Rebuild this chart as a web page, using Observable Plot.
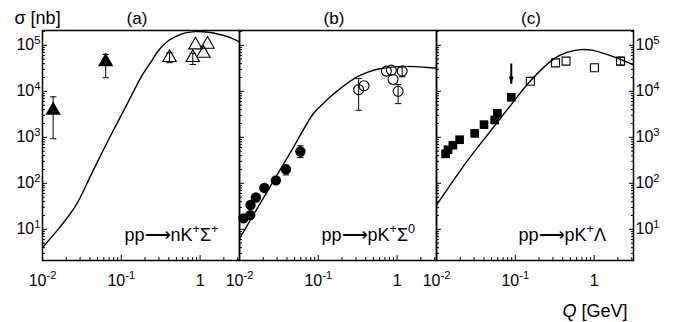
<!DOCTYPE html>
<html><head><meta charset="utf-8">
<script src="https://cdn.jsdelivr.net/npm/d3@7"></script>
<script src="https://cdn.jsdelivr.net/npm/@observablehq/plot@0.6"></script>
<style>html,body{margin:0;padding:0;background:#fff;} #chart svg{display:block}</style>
</head><body><div id="chart"></div>
<script>
// ---------- labels ----------
const panels = ["a", "b", "c"];
const panelTitles = ["(a)", "(b)", "(c)"];
const reactions = ["pp⟶nK^{+}Σ^{+}", "pp⟶pK^{+}Σ^{0}", "pp⟶pK^{+}Λ"];
const yTitle = "σ [nb]";
const xTitle = "*Q* [GeV]";

// ---------- ticks ----------
const xMajor = [0.01, 0.1, 1];
const xMajorLabels = ["10^{-2}", "10^{-1}", "1"];
const xMinor = [0.02, 0.03, 0.04, 0.05, 0.06, 0.07, 0.08, 0.09, 0.2, 0.3, 0.4, 0.5, 0.6, 0.7, 0.8, 0.9, 2, 3];
const yMajor = [10, 100, 1000, 10000, 100000];
const yMajorLabels = ["10^{1}", "10^{2}", "10^{3}", "10^{4}", "10^{5}"];
const yMinor = [3, 4, 5, 6, 7, 8, 9, 20, 30, 40, 50, 60, 70, 80, 90,
  200, 300, 400, 500, 600, 700, 800, 900, 2000, 3000, 4000, 5000, 6000, 7000, 8000, 9000,
  20000, 30000, 40000, 50000, 60000, 70000, 80000, 90000, 200000];

// ---------- theory curves ----------
const curveA_Q = [0.01, 0.01625, 0.02642, 0.04295, 0.06982, 0.1135, 0.1845, 0.2466, 0.2998, 0.382, 0.487, 0.652, 0.873, 1.288, 1.723, 2.54, 3.16];
const curveA_sigma = [4.03, 10.6, 32.6, 175, 931, 4580, 22500, 47800, 79000, 120000, 154000, 186000, 199000, 192000, 174000, 142000, 117000];
const curveB_Q = [0.01, 0.0455, 0.0859, 0.1087, 0.140, 0.195, 0.306, 0.428, 0.607, 1.205, 3.05, 3.16];
const curveB_sigma = [6.33, 510, 3220, 4900, 7450, 11900, 20400, 26200, 30900, 34800, 32000, 31900];
const curveC_Q = [0.01, 0.0246, 0.0488, 0.0877, 0.157, 0.312, 0.453, 0.682, 0.97, 1.353, 2.08, 3.16];
const curveC_sigma = [33.7, 308, 1390, 5020, 17200, 51300, 70300, 80600, 77800, 65900, 50700, 37500];

// ---------- data: panel (a) pp -> n K+ Sigma+ ----------
const aFilled_Q = [0.01365, 0.0633];
const aFilled_sigma = [3870, 44000];
const aFilled_lo = [931, 19700];
const aFilled_hi = [7580, 63600];
const aOpen_Q = [0.409, 0.807, 0.873, 1.10, 1.24];
const aOpen_sigma = [53900, 53900, 101600, 66800, 105000];
const aOpen_lo = [41900, 38400, null, null, null];
const aOpen_hi = [69000, 66800, null, null, null];

// ---------- data: panel (b) pp -> p K+ Sigma0 ----------
const bFilled_Q = [0.01124, 0.01368, 0.0138, 0.01614, 0.02065, 0.02897, 0.0389, 0.0593];
const bFilled_sigma = [17.3, 20.4, 33.8, 49.2, 79.4, 116, 201, 492];
const bFilled_lo = [null, null, null, null, null, null, 152, 364];
const bFilled_hi = [null, null, null, null, null, null, 250, 656];
const bOpen_Q = [0.325, 0.380, 0.731, 0.845, 1.158, 0.889, 1.03];
const bOpen_sigma = [10900, 13200, 27500, 28900, 27500, 18100, 10000];
const bOpen_lo = [3870, null, null, null, 20700, null, 5400];
const bOpen_hi = [19000, null, null, null, 34000, null, 14000];

// ---------- data: panel (c) pp -> p K+ Lambda ----------
const cFilled_Q = [0.01303, 0.0140, 0.01614, 0.01963, 0.0305, 0.0401, 0.0548, 0.0593, 0.0889];
const cFilled_sigma = [438, 536, 673, 887, 1217, 1884, 2386, 3326, 7430];
const cOpen_Q = [0.155, 0.324, 0.440, 1.01, 2.16];
const cOpen_sigma = [16500, 41500, 45400, 32600, 45400];
const cOpen_lo = [null, null, null, null, 37000];
const cOpen_hi = [null, null, null, null, 55000];
const cArrow_Q = [0.0889];
const cArrow_from = [40400];
const cArrow_to = [14600];

// ---------- build tables ----------
const rows = (panel, Q, S, lo, hi) => Q.map((q, i) => ({panel, Q: q, sigma: S[i], lo: lo ? lo[i] : null, hi: hi ? hi[i] : null}));
const curves = [
  ...rows("a", curveA_Q, curveA_sigma),
  ...rows("b", curveB_Q, curveB_sigma),
  ...rows("c", curveC_Q, curveC_sigma)
];
const filledTri = rows("a", aFilled_Q, aFilled_sigma, aFilled_lo, aFilled_hi);
const openTri = rows("a", aOpen_Q, aOpen_sigma, aOpen_lo, aOpen_hi);
const filledCirc = rows("b", bFilled_Q, bFilled_sigma, bFilled_lo, bFilled_hi);
const openCirc = rows("b", bOpen_Q, bOpen_sigma, bOpen_lo, bOpen_hi);
const filledSq = rows("c", cFilled_Q, cFilled_sigma);
const openSq = rows("c", cOpen_Q, cOpen_sigma, cOpen_lo, cOpen_hi);
const errs = [...filledTri, ...openTri, ...filledCirc, ...openCirc, ...openSq].filter(d => d.lo != null);
const arrows = cArrow_Q.map((q, i) => ({panel: "c", Q: q, from: cArrow_from[i], to: cArrow_to[i]}));

const xLabMap = new Map(xMajor.map((d, i) => [d, xMajorLabels[i]]));
const yLabMap = new Map(yMajor.map((d, i) => [d, yMajorLabels[i]]));

// custom symbols
const capSym = {draw(ctx, size) { const h = Math.sqrt(size / Math.PI); ctx.moveTo(-h, 0); ctx.lineTo(h, 0); }};
const headSym = {draw(ctx, size) { const h = Math.sqrt(size / Math.PI); ctx.moveTo(0, 0); ctx.lineTo(-h * 0.6, -h * 1.8); ctx.lineTo(h * 0.6, -h * 1.8); ctx.closePath(); }};

const blank = () => "";
const chart = Plot.plot({
  width: 676, height: 322,
  marginLeft: 42, marginRight: 43, marginTop: 30, marginBottom: 62,
  style: {fontFamily: "'Liberation Sans', Arial, sans-serif", fontSize: "16px", color: "black", background: "white"},
  fx: {domain: panels, padding: 0, axis: null, label: null},
  x: {type: "log", domain: [0.01, 3.16], label: null},
  y: {type: "log", domain: [2.1, 2.1e5], label: null},
  marks: [
    Plot.line(curves, {x: "Q", y: "sigma", fx: "panel", z: "panel", stroke: "black", strokeWidth: 1.4, curve: "catmull-rom", clip: true}),
    Plot.ruleX(errs, {x: "Q", y1: "lo", y2: "hi", fx: "panel", stroke: "black", strokeWidth: 1}),
    Plot.dot(errs, {x: "Q", y: "lo", fx: "panel", symbol: capSym, r: 3.2, stroke: "black", fill: "none", strokeWidth: 1}),
    Plot.dot(errs, {x: "Q", y: "hi", fx: "panel", symbol: capSym, r: 3.2, stroke: "black", fill: "none", strokeWidth: 1}),
    Plot.dot(filledTri, {x: "Q", y: "sigma", fx: "panel", symbol: "triangle", r: 5.7, fill: "black", stroke: "none"}),
    Plot.dot(openTri, {x: "Q", y: "sigma", fx: "panel", symbol: "triangle", r: 5, fill: "none", stroke: "black", strokeWidth: 1.1}),
    Plot.dot(filledCirc, {x: "Q", y: "sigma", fx: "panel", symbol: "circle", r: 5.2, fill: "black", stroke: "none"}),
    Plot.dot(openCirc, {x: "Q", y: "sigma", fx: "panel", symbol: "circle", r: 5, fill: "none", stroke: "black", strokeWidth: 1.1}),
    Plot.dot(filledSq, {x: "Q", y: "sigma", fx: "panel", symbol: "square", r: 4.9, fill: "black", stroke: "none"}),
    Plot.dot(openSq, {x: "Q", y: "sigma", fx: "panel", symbol: "square", r: 4.5, fill: "none", stroke: "black", strokeWidth: 1.1}),
    Plot.link(arrows, {x1: "Q", x2: "Q", y1: "from", y2: "to", fx: "panel", stroke: "black", strokeWidth: 2}),
    Plot.dot(arrows, {x: "Q", y: "to", fx: "panel", symbol: headSym, r: 4, fill: "black", stroke: "none"}),
    Plot.frame({stroke: "black", strokeWidth: 1.5}),
    // inward ticks
    Plot.axisY(yMajor, {anchor: "left", tickSize: -5, tickFormat: blank, facetAnchor: null}),
    Plot.axisY(yMinor, {anchor: "left", tickSize: -3, tickFormat: blank, facetAnchor: null}),
    Plot.axisY(yMajor, {anchor: "right", tickSize: -5, tickFormat: blank}),
    Plot.axisY(yMinor, {anchor: "right", tickSize: -3, tickFormat: blank}),
    Plot.axisX(xMajor, {anchor: "bottom", tickSize: -5, tickFormat: blank}),
    Plot.axisX(xMinor, {anchor: "bottom", tickSize: -3, tickFormat: blank}),
    // tick labels
    Plot.axisY(yMajor, {anchor: "left", tickSize: 0, tickPadding: 2, fontSize: 16, tickFormat: d => yLabMap.get(d)}),
    Plot.axisY(yMajor, {anchor: "right", tickSize: 0, tickPadding: 2, fontSize: 16, tickFormat: d => yLabMap.get(d)}),
    Plot.axisX(xMajor, {anchor: "bottom", tickSize: 0, tickPadding: 14, fontSize: 16, tickFormat: d => xLabMap.get(d)}),
    // titles
    Plot.text(panels, {fx: d => d, text: (d, i) => panelTitles[i], frameAnchor: "top", lineAnchor: "middle", dx: -4, dy: -12.4, fontSize: 17}),
    Plot.text(panels, {fx: d => d, text: (d, i) => reactions[i], frameAnchor: "bottom-left", lineAnchor: "middle", textAnchor: "start", dx: 82, dy: -25.3, fontSize: 18}),
    Plot.text([yTitle], {fx: () => "a", text: d => d, frameAnchor: "top-left", lineAnchor: "middle", textAnchor: "start", dx: -28, dy: -11.8, fontSize: 18}),
    Plot.text([xTitle], {fx: () => "c", text: d => d, frameAnchor: "bottom-right", lineAnchor: "middle", textAnchor: "end", dx: -6, dy: 50.7, fontSize: 18})
  ]
});

// rich text: ^{...} superscript, *...* italic
function richify(svg) {
  const NS = "http://www.w3.org/2000/svg";
  svg.querySelectorAll("text").forEach(t => {
    if (t.children.length) return;
    const s = t.textContent;
    if (!/[\^*]/.test(s)) return;
    t.textContent = "";
    const re = /\^\{([^}]*)\}|\*([^*]+)\*|([^^*]+)/g;
    let m, raised = false;
    while ((m = re.exec(s))) {
      const ts = document.createElementNS(NS, "tspan");
      if (m[1] !== undefined) {
        ts.textContent = m[1];
        ts.setAttribute("font-size", "70%");
        ts.setAttribute("dy", "-0.6em");
        raised = true;
      } else {
        ts.textContent = m[2] !== undefined ? m[2] : m[3];
        if (m[2] !== undefined) ts.setAttribute("font-style", "italic");
        if (raised) { ts.setAttribute("dy", "0.42em"); raised = false; }
      }
      t.appendChild(ts);
    }
  });
}
richify(chart);
document.getElementById("chart").appendChild(chart);
</script>
</body></html>
